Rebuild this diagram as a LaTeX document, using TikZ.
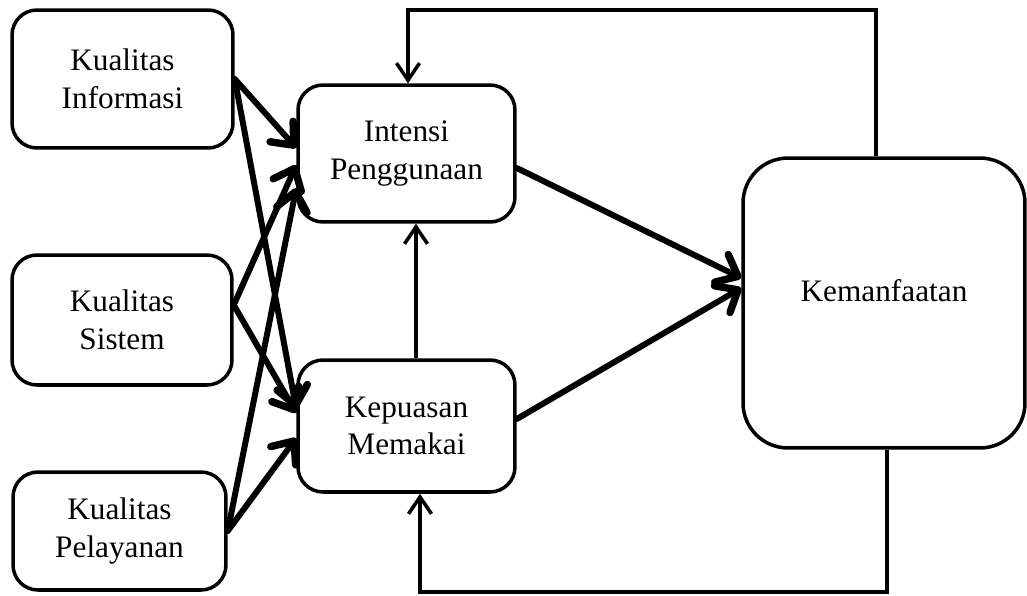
\documentclass[tikz,border=0pt]{standalone}
\usepackage{fontspec}
\setmainfont{Liberation Serif}
\usetikzlibrary{arrows.meta}

\begin{document}
\begin{tikzpicture}[x=0.02cm,y=-0.02cm,
    kotak/.style={draw,line width=2pt,rounded corners=0.5cm,align=center,inner sep=0pt,
      font=\fontsize{17.8}{21.5}\selectfont},
    panah/.style={line width=3.4pt,line cap=round,
      -{Straight Barb[angle=80:0.48cm,line width=4.2pt,round]}},
    balik/.style={line width=1.8pt,-{Straight Barb[length=0.34cm,width=0.46cm,line width=2pt]}}]
  \useasboundingbox (0,0) rectangle (1027,595);
  % kotak kiri
  \node[kotak,minimum width=4.42cm,minimum height=2.76cm] (ki) at (122.5,79) {Kualitas\\Informasi};
  \node[kotak,minimum width=4.40cm,minimum height=2.60cm] (ks) at (122,320) {Kualitas\\Sistem};
  \node[kotak,minimum width=4.26cm,minimum height=2.36cm] (kp) at (119.5,531) {Kualitas\\Pelayanan};
  % kotak tengah
  \node[kotak,minimum width=4.34cm,minimum height=2.74cm] (ip) at (406.5,153.5) {Intensi\\Penggunaan};
  \node[kotak,minimum width=4.34cm,minimum height=2.64cm] (km) at (406.5,426) {Kepuasan\\Memakai};
  % kotak kanan
  \node[kotak,rounded corners=0.9cm,minimum width=5.64cm,minimum height=5.8cm,text depth=0.5cm] (kem) at (884,303) {Kemanfaatan};
  \coordinate (fbtop) at (408,10);
  \coordinate (fbbot) at (420,592);
  % panah masuk
  \draw[panah] (ki.east) -- ([yshift=0.11cm]ip.west);
  \draw[panah] (ki.east) -- ([yshift=0.34cm]km.west);
  \draw[panah] ([yshift=0.3cm]ks.east) -- ([yshift=-0.23cm]ip.west);
  \draw[panah] ([yshift=0.3cm]ks.east) -- ([yshift=0.26cm]km.west);
  \draw[panah] (kp.east) -- ([yshift=-0.69cm]ip.west);
  \draw[panah] (kp.east) -- ([yshift=-0.24cm]km.west);
  % ke kemanfaatan
  \draw[panah] ([yshift=-0.29cm]ip.east) -- ([yshift=0.5cm]kem.west);
  \draw[panah] ([yshift=0.14cm]km.east) -- ([yshift=0.3cm]kem.west);
  \draw[balik] ([xshift=0.19cm]km.north) -- ([xshift=0.19cm]ip.south);
  % umpan balik
  \draw[balik] ([xshift=-0.16cm]kem.north) |- (fbtop) -- (fbtop |- ip.north);
  \draw[balik] ([xshift=0.06cm]kem.south) |- (fbbot) -- (fbbot |- km.south);
\end{tikzpicture}
\end{document}
